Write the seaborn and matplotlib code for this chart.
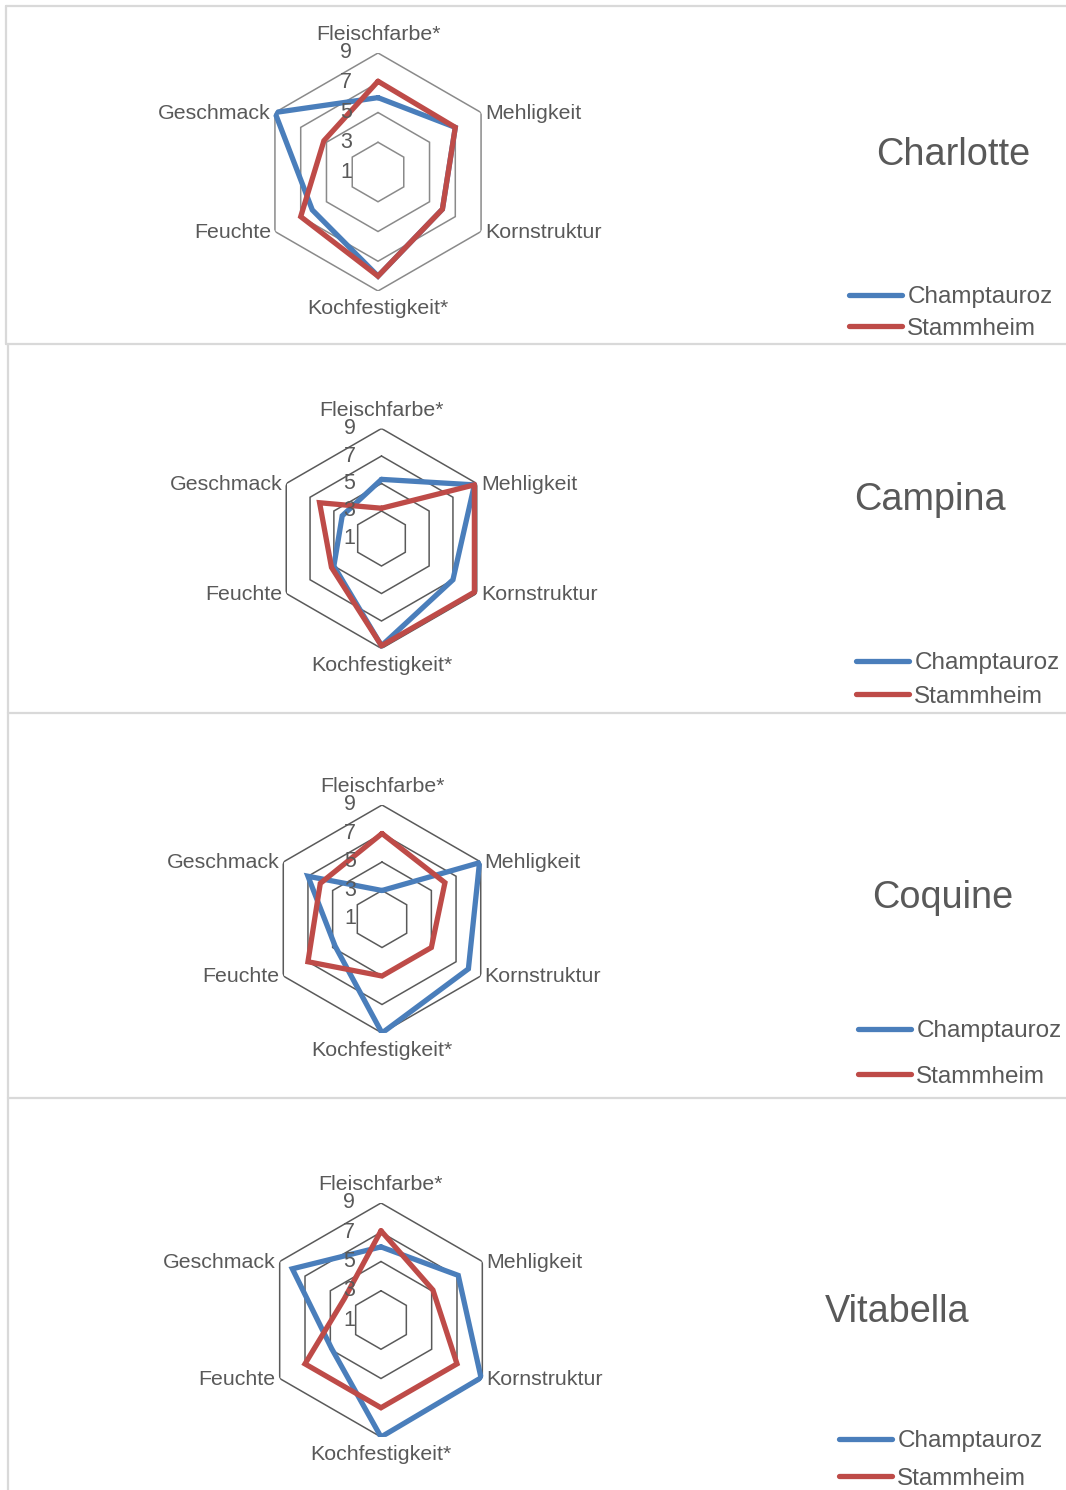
import numpy as np
import matplotlib
matplotlib.use("Agg")
import matplotlib.pyplot as plt
from matplotlib.lines import Line2D
import seaborn as sns

# Sensory attributes (radar axes, clockwise from top)
categories = ["Fleischfarbe*", "Mehligkeit", "Kornstruktur",
              "Kochfestigkeit*", "Feuchte", "Geschmack"]
sites = ["Champtauroz", "Stammheim"]
tick_values = [1, 3, 5, 7, 9]

# Mean scores per variety and site
charlotte_champtauroz = [6.0, 7.0, 6.0, 8.0, 6.1, 9.0]
charlotte_stammheim = [7.1, 7.0, 6.0, 8.0, 7.0, 5.2]

campina_champtauroz = [5.3, 8.8, 7.0, 8.8, 5.0, 4.3]
campina_stammheim = [3.2, 8.8, 8.8, 8.8, 5.2, 6.2]

coquine_champtauroz = [3.0, 8.9, 8.0, 9.0, 4.8, 7.0]
coquine_stammheim = [7.0, 6.1, 5.0, 5.0, 7.0, 6.0]

vitabella_champtauroz = [6.0, 7.1, 8.9, 9.0, 4.9, 8.0]
vitabella_stammheim = [7.1, 5.1, 7.0, 7.0, 7.0, 3.9]

varieties = ["Charlotte", "Campina", "Coquine", "Vitabella"]

sns.set_theme(style="white")
plt.rcParams["font.family"] = ["Liberation Sans", "DejaVu Sans"]

W, H = 1066, 1490
fig = plt.figure(figsize=(W / 100, H / 100), dpi=100)
fig.patch.set_facecolor("white")

TEXT = "#595959"
COLORS = {"Champtauroz": "#4a7ebb", "Stammheim": "#be4b48"}

# layout per panel (pixels): radar centre, outer radius, grid colour,
# title position, legend anchor, legend row spacing
panels = [
    dict(name="Charlotte", data=(charlotte_champtauroz, charlotte_stammheim),
         cx=378, cy=172, R=119, grid="#8a8a8a",
         title=(953, 155), leg=(849, 313), lsp=0.38),
    dict(name="Campina", data=(campina_champtauroz, campina_stammheim),
         cx=381.5, cy=538.5, R=110, grid="#5a5a5a",
         title=(930, 500), leg=(856, 680), lsp=0.46),
    dict(name="Coquine", data=(coquine_champtauroz, coquine_stammheim),
         cx=382, cy=919, R=114, grid="#5a5a5a",
         title=(943, 898), leg=(858, 1054), lsp=0.95),
    dict(name="Vitabella", data=(vitabella_champtauroz, vitabella_stammheim),
         cx=381, cy=1320, R=117, grid="#5a5a5a",
         title=(897, 1312), leg=(839, 1460), lsp=0.62),
]

n = len(categories)
theta = np.linspace(0, 2 * np.pi, n, endpoint=False)
theta_closed = np.append(theta, theta[0])

for p in panels:
    cx, cy, R = p["cx"], p["cy"], p["R"]
    ax = fig.add_axes([(cx - R) / W, 1 - (cy + R) / H, 2 * R / W, 2 * R / H],
                      projection="polar")
    ax.set_theta_offset(np.pi / 2)
    ax.set_theta_direction(-1)
    ax.set_ylim(1, 9)
    ax.grid(False)
    ax.spines["polar"].set_visible(False)
    ax.set_xticks([])
    ax.set_yticks([])
    ax.patch.set_alpha(0)

    # hexagonal grid rings
    for r in tick_values[1:]:
        ax.plot(theta_closed, [r] * (n + 1), color=p["grid"], lw=1.1,
                zorder=1)

    # series polygons
    for site, vals in zip(sites, p["data"]):
        vals_closed = np.append(vals, vals[0])
        sns.lineplot(x=theta_closed, y=vals_closed, sort=False,
                     estimator=None, color=COLORS[site], lw=3.8,
                     label=site, ax=ax, zorder=3)
    for line in ax.get_lines():
        line.set_solid_joinstyle("miter")

    # radial value labels along the top axis
    for r in tick_values:
        ax.annotate(str(r), xy=(0, r), xytext=(-32, 0),
                    textcoords="offset pixels", ha="center", va="center",
                    fontsize=15.5, color=TEXT, zorder=4)

    # category labels outside the outer ring
    offsets = [((0, 18), "center"), ((4, -1), "left"), ((4, -1), "left"),
               ((0, -17), "center"), ((-4, -1), "right"), ((-4, -1), "right")]
    for ang, cat, (off, ha) in zip(theta, categories, offsets):
        ax.annotate(cat, xy=(ang, 9), xytext=off, textcoords="offset pixels",
                    ha=ha, va="center", fontsize=15.4, color=TEXT,
                    annotation_clip=False)

    # variety title
    tx, ty = p["title"]
    fig.text(tx / W, 1 - ty / H, p["name"], ha="center", va="center",
             fontsize=27.3, color=TEXT)

    # legend
    lx, ly = p["leg"]
    leg = ax.legend(loc="center left", bbox_to_anchor=(lx / W, 1 - ly / H),
                    bbox_transform=fig.transFigure, frameon=False,
                    fontsize=17.5, handlelength=2.2, handletextpad=0.2,
                    borderpad=0, borderaxespad=0, labelspacing=p["lsp"])
    for t in leg.get_texts():
        t.set_color(TEXT)
    for h in leg.get_lines():
        h.set_linewidth(3.8)
        h.set_solid_capstyle("round")

# panel frame lines
FRAME = "#d9d9d9"
def hline(y, x0, x1):
    fig.add_artist(Line2D([x0 / W, x1 / W], [1 - y / H, 1 - y / H],
                          color=FRAME, lw=1.6))

def vline(x, y0, y1):
    fig.add_artist(Line2D([x / W, x / W], [1 - y0 / H, 1 - y1 / H],
                          color=FRAME, lw=1.6))

hline(6, 6, W)
vline(6, 6, 344)
hline(344, 6, W)
vline(8, 344, 713)
hline(713, 8, W)
vline(8, 713, 1098)
hline(1098, 8, W)
vline(8, 1098, H)

fig.savefig("out.png", dpi=100, facecolor="white")
